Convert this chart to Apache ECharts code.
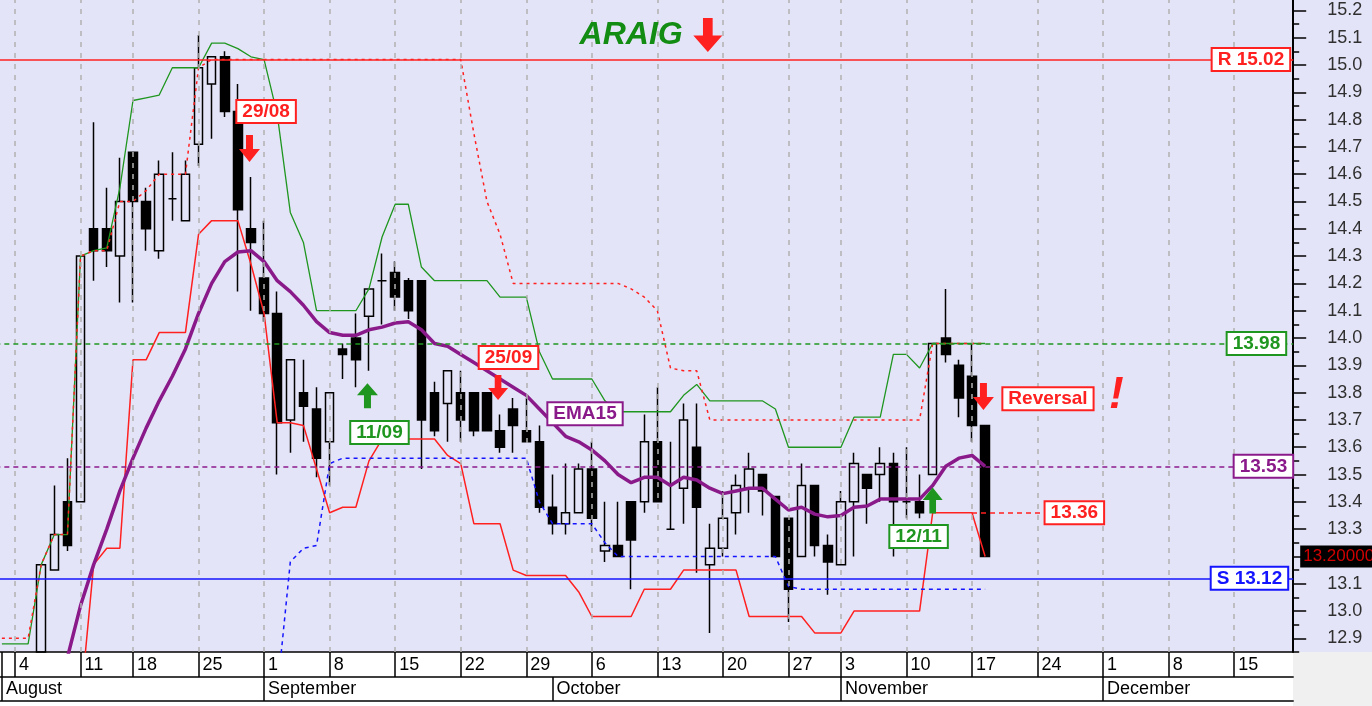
<!DOCTYPE html>
<html>
<head>
<meta charset="utf-8">
<title>ARAIG</title>
<script src="https://cdn.jsdelivr.net/npm/echarts@6.0.0/dist/echarts.min.js"></script>
<style>
  html, body { margin: 0; padding: 0; background: #f0f0f0; }
  #main { width: 1372px; height: 706px; }
</style>
</head>
<body>
<div id="main"></div>
<script>
// trading days on the axis (15/08 and 28/10 are market holidays)
const augDays = [1, 4, 5, 6, 7, 8, 11, 12, 13, 14, 18, 19, 20, 21, 22, 25, 26, 27, 28, 29];
const sepDays = [1, 2, 3, 4, 5, 8, 9, 10, 11, 12, 15, 16, 17, 18, 19, 22, 23, 24, 25, 26, 29, 30];
const octDays = [1, 2, 3, 6, 7, 8, 9, 10, 13, 14, 15, 16, 17, 20, 21, 22, 23, 24, 27, 29, 30, 31];
const novDays = [3, 4, 5, 6, 7, 10, 11, 12, 13, 14, 17, 18, 19, 20, 21, 24, 25, 26, 27, 28];
const decDays = [1, 2, 3, 4, 5, 8, 9, 10, 11, 12, 15, 16, 17, 18, 19];

const weekStarts = ['04/08', '11/08', '18/08', '25/08', '01/09', '08/09', '15/09', '22/09', '29/09',
  '06/10', '13/10', '20/10', '27/10', '03/11', '10/11', '17/11', '24/11', '01/12', '08/12', '15/12'];
const monthStarts = ['01/08', '01/09', '01/10', '03/11', '01/12'];
const monthNames = ['August', 'September', 'October', 'November', 'December'];

// [open, close, low, high]
const candles = [
  '-', '-', '-',
  [12.85, 13.17, 12.85, 13.17], [13.15, 13.28, 13.15, 13.46], [13.40, 13.24, 13.22, 13.56],
  [13.40, 14.30, 13.40, 14.30], [14.40, 14.32, 14.21, 14.79], [14.40, 14.32, 14.26, 14.55],
  [14.30, 14.50, 14.13, 14.66], [14.68, 14.50, 14.13, 14.68], [14.50, 14.40, 14.32, 14.55],
  [14.32, 14.60, 14.29, 14.65], [14.51, 14.51, 14.43, 14.68], [14.43, 14.60, 14.43, 14.65],
  [14.71, 14.99, 14.63, 15.11], [14.93, 15.03, 14.73, 15.03], [15.03, 14.83, 14.81, 15.05],
  [14.83, 14.47, 14.17, 14.93], [14.40, 14.35, 14.10, 14.59], [14.22, 14.09, 14.06, 14.43],
  [14.09, 13.69, 13.50, 14.17], [13.70, 13.92, 13.58, 13.92], [13.80, 13.75, 13.62, 13.92],
  [13.74, 13.56, 13.49, 13.82], [13.62, 13.80, 13.46, 13.80], [13.96, 13.94, 13.85, 13.98],
  [14.00, 13.92, 13.82, 14.09], [14.08, 14.18, 13.88, 14.18], [14.21, 14.21, 14.05, 14.31],
  [14.24, 14.15, 14.10, 14.28], [14.21, 14.10, 14.07, 14.22], [14.21, 13.70, 13.52, 14.21],
  [13.80, 13.66, 13.64, 13.84], [13.76, 13.88, 13.62, 13.88], [13.80, 13.70, 13.62, 13.88],
  [13.80, 13.66, 13.64, 13.80], [13.80, 13.66, 13.66, 13.80], [13.66, 13.60, 13.58, 13.72],
  [13.74, 13.68, 13.58, 13.78], [13.66, 13.62, 13.62, 13.78], [13.62, 13.38, 13.36, 13.68],
  [13.38, 13.32, 13.28, 13.50], [13.32, 13.36, 13.28, 13.54], [13.36, 13.52, 13.36, 13.54],
  [13.52, 13.34, 13.29, 13.62], [13.22, 13.24, 13.18, 13.40], [13.24, 13.20, 13.20, 13.40],
  [13.40, 13.26, 13.08, 13.40], [13.40, 13.62, 13.36, 13.72], [13.62, 13.40, 13.40, 13.82],
  [13.30, 13.30, 13.30, 13.62], [13.45, 13.70, 13.32, 13.76], [13.60, 13.38, 13.14, 13.76],
  [13.17, 13.23, 12.92, 13.32], [13.23, 13.34, 13.20, 13.44], [13.36, 13.46, 13.28, 13.50],
  [13.45, 13.52, 13.36, 13.58], [13.50, 13.44, 13.35, 13.50], [13.42, 13.20, 13.20, 13.42],
  [13.34, 13.08, 12.96, 13.34], [13.20, 13.46, 13.20, 13.54], [13.46, 13.24, 13.20, 13.46],
  [13.24, 13.18, 13.06, 13.28], [13.17, 13.40, 13.17, 13.44], [13.40, 13.54, 13.20, 13.58],
  [13.50, 13.45, 13.32, 13.50], [13.50, 13.54, 13.40, 13.60], [13.54, 13.40, 13.20, 13.58],
  [13.40, 13.40, 13.34, 13.60], [13.40, 13.36, 13.34, 13.50], [13.50, 13.98, 13.50, 13.98],
  [14.00, 13.94, 13.91, 14.18], [13.90, 13.78, 13.71, 13.92], [13.86, 13.68, 13.62, 13.98],
  [13.68, 13.20, 13.20, 13.68]
];

const upperBand = [
  12.88, 12.88, 12.88, 13.17, 13.28, 13.28, 14.30, 14.32, 14.33, 14.55,
  14.87, 14.88, 14.89, 14.99, 14.99, 14.99, 15.08, 15.08, 15.06, 15.03,
  15.02, 14.82, 14.46, 14.35, 14.10, 14.10, 14.10, 14.10, 14.18, 14.37,
  14.49, 14.49, 14.26, 14.21, 14.21, 14.21, 14.21, 14.21, 14.15, 14.15,
  14.15, 13.95, 13.85, 13.85, 13.85, 13.85, 13.77, 13.73, 13.73, 13.73,
  13.73, 13.73, 13.79, 13.83, 13.77, 13.77, 13.77, 13.77, 13.77, 13.74,
  13.60, 13.60, 13.60, 13.60, 13.60, 13.71, 13.71, 13.71, 13.94, 13.94,
  13.89, 13.98, 13.98, 13.98, 13.98, 13.98
];

const lowerBand = [
  null, null, null, null, null, null, 12.66, 13.17, 13.23, 13.23,
  13.92, 13.92, 14.02, 14.02, 14.02, 14.38, 14.43, 14.43, 14.43, 14.27,
  14.09, 13.69, 13.69, 13.68, 13.52, 13.36, 13.38, 13.38, 13.55, 13.63,
  13.63, 13.63, 13.63, 13.63, 13.57, 13.54, 13.32, 13.32, 13.32, 13.15,
  13.13, 13.13, 13.13, 13.13, 13.07, 12.98, 12.98, 12.98, 12.98, 13.08,
  13.08, 13.08, 13.15, 13.15, 13.15, 13.15, 13.15, 12.98, 12.98, 12.98,
  12.98, 12.98, 12.92, 12.92, 12.92, 13.00, 13.00, 13.00, 13.00, 13.00,
  13.00, 13.36, 13.36, 13.36, 13.36, 13.20
];

const stopHigh = [
  12.90, 12.90, 12.90, 13.17, 13.28, 13.28, 14.30, 14.32, 14.32, 14.50,
  14.50, 14.54, 14.60, 14.60, 14.60, 14.99, 15.02, 15.02, 15.02, 15.02,
  15.02, 15.02, 15.02, 15.02, 15.02, 15.02, 15.02, 15.02, 15.02, 15.02,
  15.02, 15.02, 15.02, 15.02, 15.02, 15.02, 14.75, 14.50, 14.38, 14.20,
  14.20, 14.20, 14.20, 14.20, 14.20, 14.20, 14.20, 14.20, 14.18, 14.15,
  14.10, 13.89, 13.88, 13.88, 13.70, 13.70, 13.70, 13.70, 13.70, 13.70,
  13.70, 13.70, 13.70, 13.70, 13.70, 13.70, 13.70, 13.70, 13.70, 13.70,
  13.70, 13.98, 13.98, 13.98, 13.98, 13.98
];

const stopLow = [
  null, null, null, null, null, null, null, null, null, null,
  null, null, null, null, null, null, null, null, null, null,
  null, 12.70, 13.18, 13.23, 13.24, 13.54, 13.56, 13.56, 13.56, 13.56,
  13.56, 13.56, 13.56, 13.56, 13.56, 13.56, 13.56, 13.56, 13.56, 13.56,
  13.56, 13.40, 13.32, 13.32, 13.32, 13.32, 13.25, 13.20, 13.20, 13.20,
  13.20, 13.20, 13.20, 13.20, 13.20, 13.20, 13.20, 13.20, 13.20, 13.20,
  13.09, 13.08, 13.08, 13.08, 13.08, 13.08, 13.08, 13.08, 13.08, 13.08,
  13.08, 13.08, 13.08, 13.08, 13.08, 13.08
];

const ema15 = [
  null, null, null, null, null, 12.83, 13.02, 13.17, 13.30, 13.44,
  13.56, 13.67, 13.77, 13.86, 13.96, 14.09, 14.20, 14.28, 14.315, 14.32,
  14.28, 14.21, 14.17, 14.12, 14.06, 14.02, 14.01, 14.01, 14.03, 14.04,
  14.055, 14.06, 14.03, 13.98, 13.97, 13.94, 13.91, 13.88, 13.85, 13.82,
  13.79, 13.74, 13.69, 13.64, 13.62, 13.59, 13.55, 13.50, 13.47, 13.49,
  13.49, 13.46, 13.49, 13.48, 13.45, 13.43, 13.44, 13.45, 13.45, 13.41,
  13.37, 13.38, 13.355, 13.345, 13.35, 13.38, 13.385, 13.41, 13.41, 13.41,
  13.41, 13.46, 13.53, 13.56, 13.57, 13.53
];

const yTicks = [12.9, 13.0, 13.1, 13.2, 13.3, 13.4, 13.5, 13.6, 13.7, 13.8, 13.9,
  14.0, 14.1, 14.2, 14.3, 14.4, 14.5, 14.6, 14.7, 14.8, 14.9, 15.0, 15.1, 15.2];

const resistance = 15.02;
const support = 13.12;
const lastUpper = 13.98;
const lastEma = 13.53;
const lastLower = 13.36;
const lastClose = 13.2;

const days = [];
[[augDays, '08'], [sepDays, '09'], [octDays, '10'], [novDays, '11'], [decDays, '12']].forEach(function (m) {
  m[0].forEach(function (d) { days.push((d < 10 ? '0' + d : '' + d) + '/' + m[1]); });
});

const red = '#ff2020';
const green = '#1f961f';
const blue = '#1414ff';
const purple = '#8a1a8a';
const font = 'Liberation Sans, Arial, sans-serif';

const downArrow = 'path://M7,0 L14,0 L14,14 L21,14 L10.5,27 L0,14 L7,14 Z';
const upArrow = 'path://M10.5,0 L21,13 L14,13 L14,27 L7,27 L7,13 L0,13 Z';

function boxLabel(color, extra) {
  return Object.assign({
    show: true, color: color, fontFamily: font, fontSize: 19, fontWeight: 'bold', lineHeight: 19,
    backgroundColor: '#ffffff', borderColor: color, borderWidth: 2, padding: [1, 5]
  }, extra || {});
}

function note(day, price, text, color, dx) {
  return {
    coord: [day, price], symbol: 'rect', symbolSize: 1, itemStyle: { color: 'rgba(0,0,0,0)' },
    label: boxLabel(color, { formatter: text, offset: [dx, 0] })
  };
}

function arrow(day, price, up, color, w, h, dx) {
  return {
    coord: [day, price], symbol: up ? upArrow : downArrow, symbolSize: [w, h], symbolOffset: [dx, 0],
    itemStyle: { color: color }, label: { show: false }
  };
}

function bigText(day, price, text, color, size) {
  return {
    coord: [day, price], symbol: 'rect', symbolSize: 1, itemStyle: { color: 'rgba(0,0,0,0)' },
    label: { show: true, formatter: text, color: color, fontFamily: font, fontSize: size, fontWeight: 'bold', fontStyle: 'italic' }
  };
}

function level(value, text, color, type, dist) {
  return {
    yAxis: value,
    lineStyle: { color: color, type: type, width: 1.5 },
    label: boxLabel(color, { formatter: text, position: 'insideEnd', distance: dist })
  };
}

let myChart = echarts.init(document.getElementById('main'));

var option = {
  animation: false,
  backgroundColor: '#f0f0f0',
  graphic: [
    { type: 'rect', z: -10, shape: { x: 0, y: 0, width: 1372, height: 652 }, style: { fill: '#e4e4f8' } },
    { type: 'rect', z: -10, shape: { x: 0, y: 652, width: 1293, height: 54 }, style: { fill: '#ffffff' } }
  ],
  grid: { left: -4.66, right: 78.8, top: -3.25, bottom: 54, containLabel: false, outerBoundsMode: 'none' },
  xAxis: [
    {
      type: 'category', data: days, boundaryGap: true, position: 'bottom',
      axisLine: { show: true, lineStyle: { color: '#000', width: 1.5 } },
      axisTick: {
        show: true, alignWithLabel: true, length: 25, lineStyle: { color: '#000', width: 1.5 },
        interval: function (i, v) { return i === 0 || weekStarts.indexOf(v) >= 0; }
      },
      axisLabel: {
        interval: function (i, v) { return weekStarts.indexOf(v) >= 0; },
        formatter: function (v) { return String(parseInt(v, 10)); },
        align: 'left', padding: [0, 0, 0, 4], margin: 4,
        fontFamily: font, fontSize: 18, color: '#000'
      },
      splitLine: { show: false }
    },
    {
      type: 'category', data: days, boundaryGap: true, position: 'bottom', offset: 25,
      axisLine: { show: true, lineStyle: { color: '#000', width: 1.5 } },
      axisTick: {
        show: true, alignWithLabel: true, length: 24, lineStyle: { color: '#000', width: 1.5 },
        interval: function (i, v) { return monthStarts.indexOf(v) >= 0; }
      },
      axisLabel: {
        interval: function (i, v) { return monthStarts.indexOf(v) >= 0; },
        formatter: function (v) { return monthNames[monthStarts.indexOf(v)]; },
        align: 'left', padding: [0, 0, 0, 4], margin: 3,
        fontFamily: font, fontSize: 18, color: '#000'
      },
      splitLine: { show: false }
    },
    {
      type: 'category', data: days, boundaryGap: true, position: 'bottom', offset: 49,
      axisLine: { show: true, lineStyle: { color: '#000', width: 1.5 } },
      axisTick: { show: false }, axisLabel: { show: false }, splitLine: { show: false }
    }
  ],
  yAxis: [
    {
      type: 'value', position: 'right', min: 12.85, max: 15.25, interval: 0.05,
      axisLine: { show: true, lineStyle: { color: '#000', width: 2 } },
      axisTick: { show: true, length: 6, lineStyle: { color: '#000', width: 1.5 } },
      axisLabel: { show: false }, splitLine: { show: false }
    },
    {
      type: 'value', position: 'right', min: 12.85, max: 15.25,
      axisLine: { show: false },
      axisTick: { show: true, length: 13, customValues: yTicks, lineStyle: { color: '#000', width: 1.5 } },
      axisLabel: {
        customValues: yTicks, margin: 34, fontFamily: font, fontSize: 18, color: '#303030',
        formatter: function (v) { return v.toFixed(1); }
      },
      splitLine: { show: false }
    },
    {
      type: 'value', position: 'right', min: 12.85, max: 15.25,
      axisLine: { show: false }, axisTick: { show: false }, splitLine: { show: false },
      axisLabel: {
        customValues: [lastClose], margin: 7, fontFamily: font, fontSize: 17, color: '#d00000',
        backgroundColor: '#000', padding: [3, 3, 2, 3],
        formatter: function (v) { return v.toFixed(5); }
      }
    }
  ],
  series: [
    {
      name: 'weeks', type: 'line', data: [], z: 1, silent: true,
      markLine: {
        symbol: ['none', 'none'], silent: true, label: { show: false },
        lineStyle: { color: '#b0b0b0', type: [5, 6], width: 1.5 },
        data: weekStarts.map(function (d) { return { xAxis: d }; })
      }
    },
    {
      name: 'ARAIG', type: 'candlestick', data: candles, z: 2, clip: true, barWidth: 9,
      itemStyle: { color: 'rgba(0,0,0,0)', color0: '#000', borderColor: '#000', borderColor0: '#000', borderWidth: 1.5 }
    },
    {
      name: 'Upper', type: 'line', data: upperBand, z: 3, showSymbol: false, clip: true,
      lineStyle: { color: green, width: 1.3 }
    },
    {
      name: 'Lower', type: 'line', data: lowerBand, z: 3, showSymbol: false, clip: true,
      lineStyle: { color: red, width: 1.5 }
    },
    {
      name: 'Stop high', type: 'line', data: stopHigh, z: 3, showSymbol: false, clip: true,
      lineStyle: { color: red, width: 1.5, type: [3, 4] }
    },
    {
      name: 'Stop low', type: 'line', data: stopLow, z: 3, showSymbol: false, clip: true,
      lineStyle: { color: blue, width: 1.5, type: [4, 4] }
    },
    {
      name: 'EMA15', type: 'line', data: ema15, z: 4, showSymbol: false, clip: true,
      lineStyle: { color: purple, width: 3.5 }
    },
    {
      name: 'levels', type: 'line', data: [], z: 5, silent: true,
      markLine: {
        symbol: ['none', 'none'], silent: true,
        data: [
          level(resistance, 'R ' + resistance.toFixed(2), red, 'solid', 4),
          level(support, 'S ' + support.toFixed(2), blue, 'solid', 6),
          level(lastUpper, lastUpper.toFixed(2), green, [5, 4], 8),
          level(lastEma, lastEma.toFixed(2), purple, [5, 4], 1),
          [
            { coord: ['17/11', lastLower], lineStyle: { color: red, type: [5, 4], width: 1.5 },
              label: boxLabel(red, { formatter: lastLower.toFixed(2), position: 'insideEnd', distance: 0 }) },
            { coord: ['01/12', lastLower] }
          ]
        ]
      },
      markPoint: {
        silent: true,
        data: [
          bigText('09/10', 15.108, 'ARAIG', '#128c12', 32),
          arrow('17/10', 15.11, false, red, 29, 34, -2),
          note('01/09', 14.83, '29/08', red, 2),
          arrow('29/08', 14.694, false, red, 21, 27, -1.5),
          note('12/09', 13.654, '11/09', green, -2.6),
          arrow('11/09', 13.789, true, green, 21, 25, -1.5),
          note('26/09', 13.929, '25/09', red, -4.7),
          arrow('25/09', 13.819, false, red, 20, 25, -2),
          note('03/10', 13.723, 'EMA15', purple, 6.3),
          note('11/11', 13.273, '12/11', green, -1),
          arrow('12/11', 13.405, true, green, 20, 26, 0),
          note('25/11', 13.778, 'Reversal', red, -2.7),
          arrow('18/11', 13.786, false, red, 21, 27, -1.7),
          bigText('02/12', 13.79, '!', red, 44)
        ]
      }
    }
  ]
};

option && myChart.setOption(option);
</script>
</body>
</html>
